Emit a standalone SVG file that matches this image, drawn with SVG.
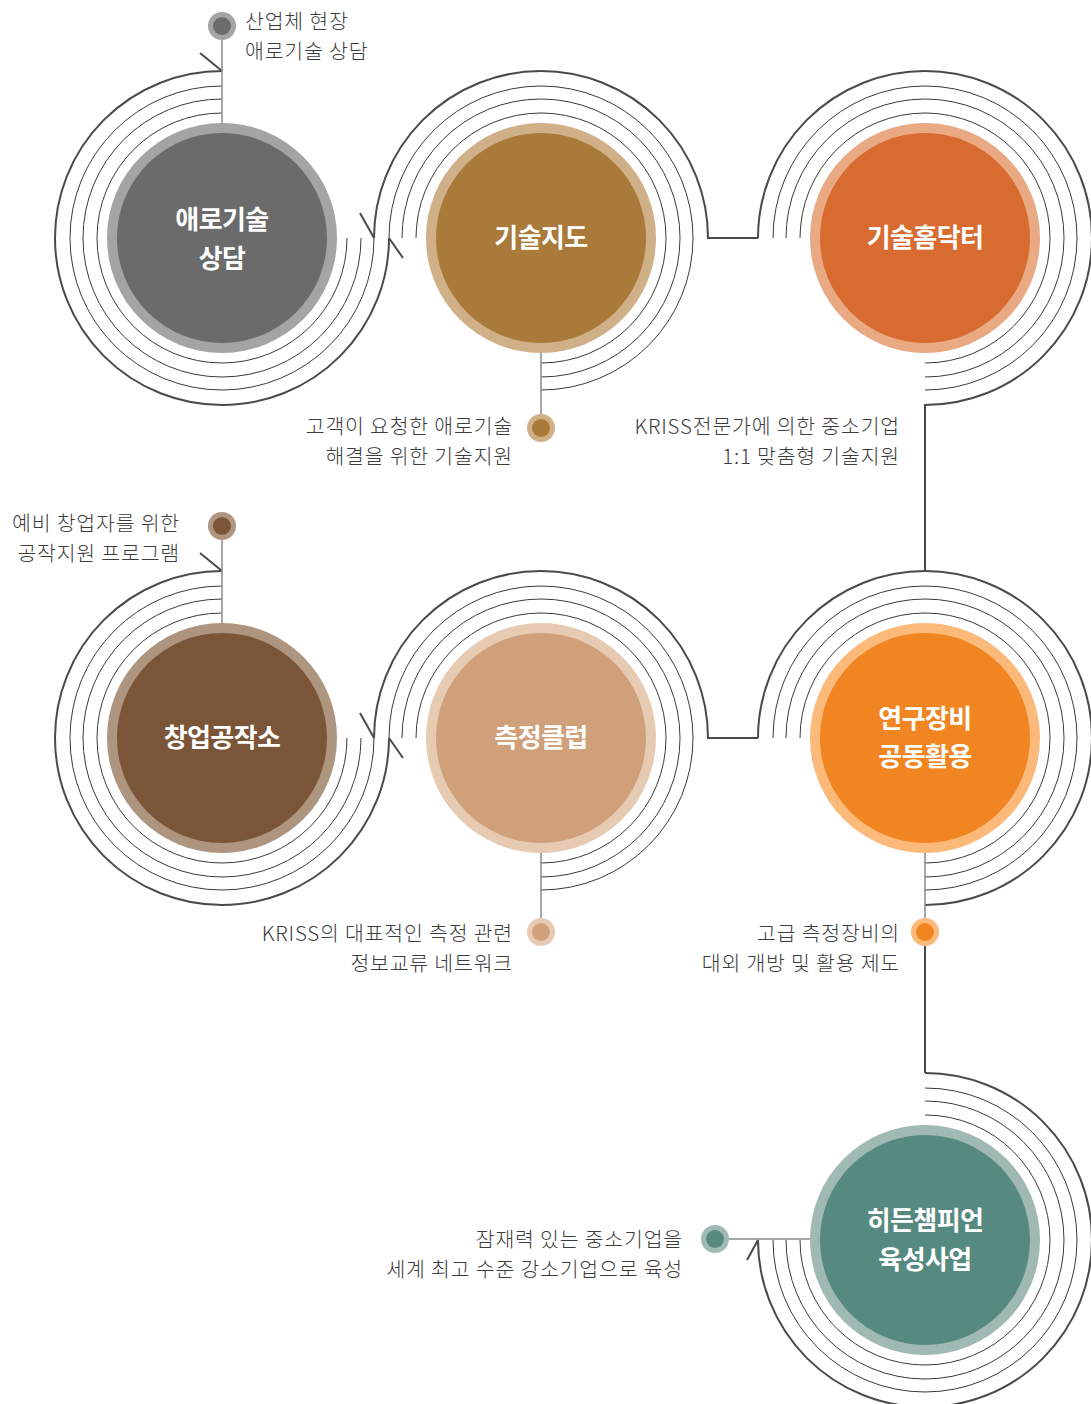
<svg xmlns="http://www.w3.org/2000/svg" width="1091" height="1404" viewBox="0 0 1091 1404">
<style>
.thick{fill:none;stroke:#4a4a4a;stroke-width:2}
.thin{fill:none;stroke:#3a3a3a;stroke-width:1}
.stem{fill:none;stroke:#8a8a8a;stroke-width:1.5}
.lbl{font-family:"Noto Sans CJK KR","Noto Sans",sans-serif;font-size:20.5px;font-weight:300;fill:#3c3c3c;letter-spacing:0.8px}
.ttl{font-family:"Noto Sans CJK KR","Noto Sans",sans-serif;font-size:26px;font-weight:700;fill:#ffffff;text-anchor:middle;letter-spacing:-0.6px}
.r{text-anchor:end}
</style>
<rect width="1091" height="1404" fill="#ffffff"/>
<g id="connectors">
<!-- node 1 -->
<path class="thick" d="M222,71 A167,167 0 1 0 389,238"/>
<path class="thick" d="M200,53 L222,71 M389,238 L403,258"/>
<path class="thin" d="M222,113 A125,125 0 1 0 347,238 M222,99 A139,139 0 1 0 361,238 M222,86 A152,152 0 1 0 374,238"/>
<path class="stem" d="M222,40 L222,124"/>
<!-- node 2 -->
<path class="thick" d="M374,238 A167,167 0 0 1 708,238 L758,238"/>
<path class="thick" d="M360,213 L374,238"/>
<path class="thin" d="M416,238 A125,125 0 1 1 541,363 M402,238 A139,139 0 1 1 541,377 M389,238 A152,152 0 1 1 541,390"/>
<path class="stem" d="M541,353 L541,414"/>
<!-- node 3 -->
<path class="thick" d="M758,238 A167,167 0 1 1 925,405 L925,571"/>
<path class="thin" d="M800,238 A125,125 0 1 1 925,363 M786,238 A139,139 0 1 1 925,377 M773,238 A152,152 0 1 1 925,390"/>
<!-- node 4 -->
<path class="thick" d="M222,571 A167,167 0 1 0 389,738"/>
<path class="thick" d="M200,553 L222,571 M389,738 L403,758"/>
<path class="thin" d="M222,613 A125,125 0 1 0 347,738 M222,599 A139,139 0 1 0 361,738 M222,586 A152,152 0 1 0 374,738"/>
<path class="stem" d="M222,540 L222,624"/>
<!-- node 5 -->
<path class="thick" d="M374,738 A167,167 0 0 1 708,738 L758,738"/>
<path class="thick" d="M360,713 L374,738"/>
<path class="thin" d="M416,738 A125,125 0 1 1 541,863 M402,738 A139,139 0 1 1 541,877 M389,738 A152,152 0 1 1 541,890"/>
<path class="stem" d="M541,853 L541,918"/>
<!-- node 6 -->
<path class="thick" d="M758,738 A167,167 0 1 1 925,905"/>
<path class="thin" d="M800,738 A125,125 0 1 1 925,863 M786,738 A139,139 0 1 1 925,877 M773,738 A152,152 0 1 1 925,890"/>
<path class="stem" d="M925,853 L925,918"/>
<path class="thick" d="M925,946 L925,1073"/>
<!-- node 7 -->
<path class="thick" d="M925,1073 A167,167 0 1 1 758,1240 L747,1260"/>
<path class="thin" d="M925,1115 A125,125 0 1 1 800,1240 M925,1101 A139,139 0 1 1 786,1240 M925,1088 A152,152 0 1 1 773,1240"/>
<path class="stem" d="M729,1239 L812,1239"/>
</g>
<g id="node1">
<circle cx="222" cy="238" r="115" fill="#a4a4a4"/>
<circle cx="222" cy="238" r="105" fill="#6a6b6a"/>
<text class="ttl"><tspan x="222" y="229">애로기술</tspan><tspan x="222" y="268">상담</tspan></text>
<circle cx="222" cy="26" r="14" fill="#a5a5a5"/>
<circle cx="222" cy="26" r="9" fill="#6b6b6b"/>
<text class="lbl"><tspan x="245" y="29">산업체 현장</tspan><tspan x="245" y="59">애로기술 상담</tspan></text>
</g>
<g id="node2">
<circle cx="541" cy="238" r="115" fill="#cfb088"/>
<circle cx="541" cy="238" r="105" fill="#a97a3a"/>
<text class="ttl" x="541" y="247">기술지도</text>
<circle cx="541" cy="428" r="14" fill="#d0b088"/>
<circle cx="541" cy="428" r="9" fill="#a97a3a"/>
<text class="lbl r"><tspan x="513" y="434">고객이 요청한 애로기술</tspan><tspan x="513" y="464">해결을 위한 기술지원</tspan></text>
</g>
<g id="node3">
<circle cx="925" cy="238" r="115" fill="#e8a983"/>
<circle cx="925" cy="238" r="105" fill="#d86b30"/>
<text class="ttl" x="925" y="247">기술홈닥터</text>
<text class="lbl r"><tspan x="900" y="434">KRISS전문가에 의한 중소기업</tspan><tspan x="900" y="464">1:1 맞춤형 기술지원</tspan></text>
</g>
<g id="node4">
<circle cx="222" cy="738" r="115" fill="#ae9580"/>
<circle cx="222" cy="738" r="105" fill="#7a5537"/>
<text class="ttl" x="222" y="747">창업공작소</text>
<circle cx="222" cy="526" r="14" fill="#b09580"/>
<circle cx="222" cy="526" r="9" fill="#7a5537"/>
<text class="lbl r"><tspan x="180" y="531">예비 창업자를 위한</tspan><tspan x="180" y="561">공작지원 프로그램</tspan></text>
</g>
<g id="node5">
<circle cx="541" cy="738" r="115" fill="#e6cbb2"/>
<circle cx="541" cy="738" r="105" fill="#cfa07a"/>
<text class="ttl" x="541" y="747">측정클럽</text>
<circle cx="541" cy="932" r="14" fill="#e6cbb2"/>
<circle cx="541" cy="932" r="9" fill="#cfa07a"/>
<text class="lbl r"><tspan x="513" y="941">KRISS의 대표적인 측정 관련</tspan><tspan x="513" y="971">정보교류 네트워크</tspan></text>
</g>
<g id="node6">
<circle cx="925" cy="738" r="115" fill="#fbb97a"/>
<circle cx="925" cy="738" r="105" fill="#f18522"/>
<text class="ttl"><tspan x="925" y="728">연구장비</tspan><tspan x="925" y="766">공동활용</tspan></text>
<circle cx="925" cy="932" r="14" fill="#fbb97a"/>
<circle cx="925" cy="932" r="9" fill="#f18522"/>
<text class="lbl r"><tspan x="900" y="941">고급 측정장비의</tspan><tspan x="900" y="971">대외 개방 및 활용 제도</tspan></text>
</g>
<g id="node7">
<circle cx="925" cy="1240" r="115" fill="#a1b9b3"/>
<circle cx="925" cy="1240" r="105" fill="#568a80"/>
<text class="ttl"><tspan x="925" y="1230">히든챔피언</tspan><tspan x="925" y="1269">육성사업</tspan></text>
<circle cx="715" cy="1239" r="14" fill="#a1b9b3"/>
<circle cx="715" cy="1239" r="9" fill="#568a80"/>
<text class="lbl r"><tspan x="683" y="1247">잠재력 있는 중소기업을</tspan><tspan x="683" y="1277">세계 최고 수준 강소기업으로 육성</tspan></text>
</g>
</svg>
